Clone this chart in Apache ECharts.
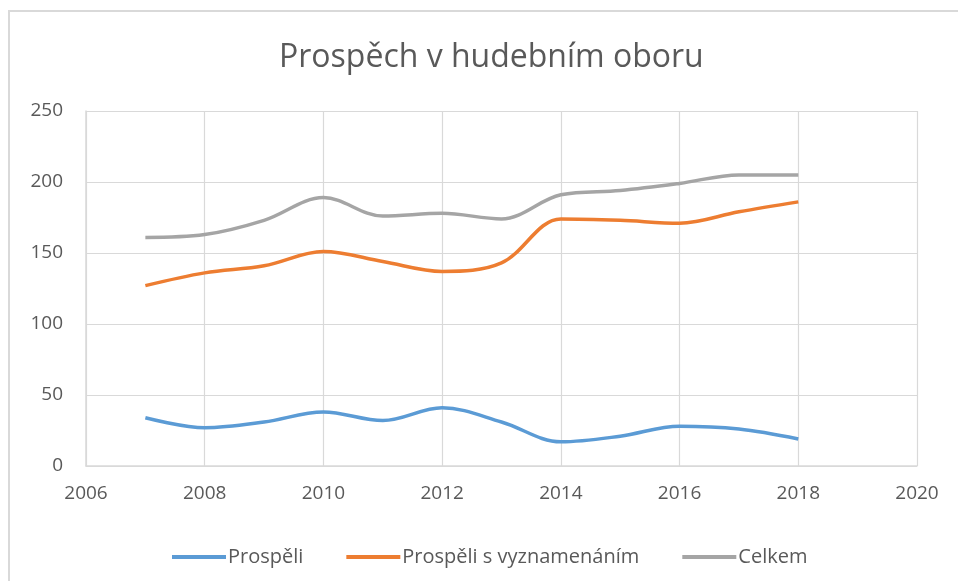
<!DOCTYPE html>
<html>
<head>
<meta charset="utf-8">
<script src="https://cdn.jsdelivr.net/npm/echarts@6/dist/echarts.min.js"></script>
<style>
  html, body { margin: 0; padding: 0; background: #fff; }
  #chart { width: 958px; height: 581px; }
</style>
</head>
<body>
<div id="chart"></div>
<script>
// roky a hodnoty
const years = [2007, 2008, 2009, 2010, 2011, 2012, 2013, 2014, 2015, 2016, 2017, 2018]
const prospeli = [34, 27, 31, 38, 32, 41, 31, 17, 21, 28, 26, 19]
const vyznamenani = [127, 136, 141, 151, 144, 137, 143, 174, 173, 171, 179, 186]
const celkem = [161, 163, 173, 189, 176, 178, 174, 191, 194, 199, 205, 205]
const seriesNames = ['Prospěli', 'Prospěli s vyznamenáním', 'Celkem']
const colors = ['#5B9BD5', '#ED7D31', '#A5A5A5']

const font = '"Open Sans", "Noto Sans", sans-serif'
const pairs = arr => years.map((y, i) => [y, arr[i]])

const myChart = echarts.init(document.getElementById('chart'), null, { renderer: 'canvas' })

const lineSeries = (name, arr) => ({
  name: name,
  type: 'line',
  smooth: 0.35,
  showSymbol: false,
  symbol: 'none',
  lineStyle: { width: 3.5 },
  data: pairs(arr)
})

const option = {
  color: colors,
  animation: false,
  title: {
    text: 'Prospěch v hudebním oboru',
    left: 274,
    top: 37,
    textStyle: {
      color: '#595959',
      fontFamily: font,
      fontWeight: 'normal',
      fontSize: 32
    }
  },
  legend: {
    data: seriesNames,
    top: 542,
    left: 167,
    icon: 'rect',
    itemWidth: 54,
    itemHeight: 4,
    itemGap: 43,
    textStyle: {
      color: '#595959',
      fontFamily: font,
      fontSize: 20,
      padding: [0, 0, 0, -3]
    }
  },
  grid: {
    left: 86,
    right: 41,
    top: 111,
    bottom: 115
  },
  xAxis: {
    type: 'value',
    min: 2006,
    max: 2020,
    interval: 2,
    axisTick: { show: false },
    axisLine: { show: true, lineStyle: { color: '#D9D9D9', width: 1.5 } },
    axisLabel: {
      margin: 18,
      color: '#595959',
      fontFamily: font,
      fontSize: 19,
      formatter: v => String(v)
    },
    splitLine: { show: true, lineStyle: { color: '#D9D9D9', width: 1.2 } }
  },
  yAxis: {
    type: 'value',
    min: 0,
    max: 250,
    interval: 50,
    axisTick: { show: false },
    axisLine: { show: true, lineStyle: { color: '#D9D9D9', width: 1.5 } },
    axisLabel: {
      margin: 23,
      color: '#595959',
      fontFamily: font,
      fontSize: 19
    },
    splitLine: { show: true, lineStyle: { color: '#D9D9D9', width: 1.2 } }
  },
  graphic: [
    { type: 'line', shape: { x1: 9, y1: 11, x2: 958, y2: 11 }, style: { stroke: '#D9D9D9', lineWidth: 2 } },
    { type: 'line', shape: { x1: 9, y1: 10, x2: 9, y2: 581 }, style: { stroke: '#D9D9D9', lineWidth: 2 } }
  ],
  series: [
    lineSeries(seriesNames[0], prospeli),
    lineSeries(seriesNames[1], vyznamenani),
    lineSeries(seriesNames[2], celkem)
  ]
}
myChart.setOption(option)
</script>
</body>
</html>
